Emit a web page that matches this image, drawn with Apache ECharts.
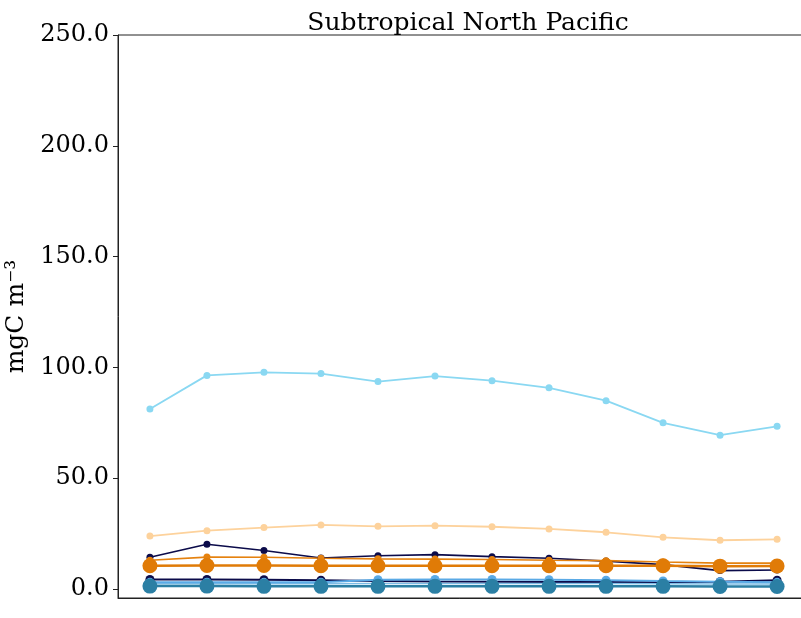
<!DOCTYPE html>
<html>
<head>
<meta charset="utf-8">
<script src="https://cdn.jsdelivr.net/npm/echarts@6/dist/echarts.min.js"></script>
<style>html,body{margin:0;padding:0;background:#fff}#c{width:801px;height:618px}</style>
</head>
<body>
<div id="c"></div>
<script>
const months = [0,1,2,3,4,5,6,7,8,9,10,11];
const yTicks = [0,50,100,150,200,250];
const skyBlue = [81.2,96.4,97.8,97.2,93.6,96.1,94.0,90.8,85.0,75.0,69.4,73.4];
const lightOrange = [23.9,26.3,27.7,28.9,28.3,28.6,28.1,27.1,25.6,23.3,22.0,22.4];
const navyUpper = [14.3,20.2,17.4,14.0,15.0,15.5,14.6,13.9,12.6,11.0,8.3,8.6];
const orangeSmall = [13.0,14.4,14.3,13.9,13.6,13.5,13.3,13.0,12.8,12.2,11.7,11.7];
const orangeBig = [10.5,10.6,10.6,10.5,10.5,10.5,10.5,10.5,10.5,10.5,10.3,10.4];
const navyLower = [4.3,4.3,4.2,4.0,3.6,3.4,3.3,3.2,3.2,3.1,3.3,4.0];
const blueLower = [3.0,3.1,3.0,3.0,4.2,4.3,4.3,4.2,4.0,3.6,3.3,3.0];
const paleBlueLower = [2.4,2.4,2.4,2.4,2.5,2.5,2.5,2.5,2.5,2.4,2.3,2.3];
const tealLower = [1.3,1.3,1.2,1.2,1.2,1.2,1.2,1.2,1.2,1.2,1.1,1.1];

function pts(arr){ return arr.map((v,i)=>[months[i], v]); }
function s(name, arr, color, size, width){
  return {name, type:'line', data:pts(arr), symbol:'circle', symbolSize:size,
    itemStyle:{color}, lineStyle:{color, width}, emphasis:{disabled:true}, animation:false};
}
const FONT = 'DejaVu Serif';
const chart = echarts.init(document.getElementById('c'), null, {renderer:'canvas'});
chart.setOption({
  animation:false,
  title:{text:'Subtropical North Pacific', left:463, textAlign:'center', top:6,
    textStyle:{fontFamily:FONT, fontSize:25, fontWeight:'normal', color:'#000'}},
  grid:{left:118, width:691, top:35, height:563, show:true, borderColor:'#222', borderWidth:1,
    containLabel:false, outerBoundsMode:'none'},
  xAxis:{type:'value', min:-0.56, max:11.56, axisLine:{show:true, onZero:false, lineStyle:{color:'#222'}},
    axisTick:{show:false}, axisLabel:{show:false}, splitLine:{show:false}},
  yAxis:{type:'value', min:-4.06, max:250,
    name:'mgC m\u207B\u00B3', nameLocation:'middle', nameGap:86, nameRotate:90,
    nameTextStyle:{fontFamily:FONT, fontSize:25, color:'#000'},
    axisLine:{show:true, onZero:false, lineStyle:{color:'#222'}},
    axisTick:{show:true, length:5, customValues:yTicks, lineStyle:{color:'#222'}},
    axisLabel:{customValues:yTicks, formatter:v=>v.toFixed(1), fontFamily:FONT, fontSize:24, color:'#000', margin:9},
    splitLine:{show:false}},
  series:[
    s('skyBlue', skyBlue, '#8ad8f2', 7, 1.8),
    s('lightOrange', lightOrange, '#fdd29c', 7, 1.8),
    s('navyUpper', navyUpper, '#0b0b4a', 7, 1.6),
    s('orangeSmall', orangeSmall, '#e5820f', 7, 1.6),
    s('navyLower', navyLower, '#0b0b4a', 9, 2),
    s('paleBlueLower', paleBlueLower, '#7dbde6', 1, 1.5),
    s('blueLower', blueLower, '#5aaae6', 9, 2),
    s('orangeBig', orangeBig, '#e07b07', 15, 2.5),
    s('tealLower', tealLower, '#2b7fa4', 15, 2.5)
  ]
});
</script>
</body>
</html>
